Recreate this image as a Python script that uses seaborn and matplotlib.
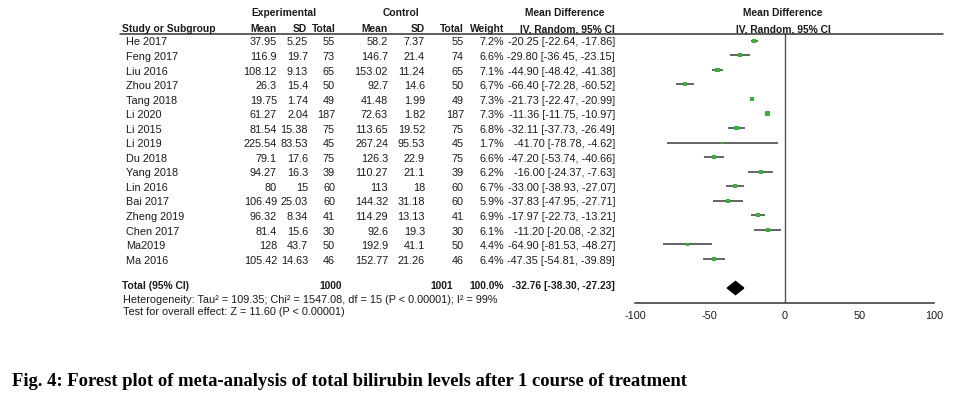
#!/usr/bin/env python3

import matplotlib

matplotlib.use("Agg")
import matplotlib.pyplot as plt
import matplotlib.transforms as mtransforms
import numpy as np
import pandas
import seaborn as sns

# Study rows
studies = [
    "He 2017", "Feng 2017", "Liu 2016", "Zhou 2017", "Tang 2018", "Li 2020",
    "Li 2015", "Li 2019", "Du 2018", "Yang 2018", "Lin 2016", "Bai 2017",
    "Zheng 2019", "Chen 2017", "Ma2019", "Ma 2016",
]
exp_mean = ["37.95", "116.9", "108.12", "26.3", "19.75", "61.27", "81.54", "225.54",
            "79.1", "94.27", "80", "106.49", "96.32", "81.4", "128", "105.42"]
exp_sd = ["5.25", "19.7", "9.13", "15.4", "1.74", "2.04", "15.38", "83.53",
          "17.6", "16.3", "15", "25.03", "8.34", "15.6", "43.7", "14.63"]
exp_total = [55, 73, 65, 50, 49, 187, 75, 45, 75, 39, 60, 60, 41, 30, 50, 46]
ctl_mean = ["58.2", "146.7", "153.02", "92.7", "41.48", "72.63", "113.65", "267.24",
            "126.3", "110.27", "113", "144.32", "114.29", "92.6", "192.9", "152.77"]
ctl_sd = ["7.37", "21.4", "11.24", "14.6", "1.99", "1.82", "19.52", "95.53",
          "22.9", "21.1", "18", "31.18", "13.13", "19.3", "41.1", "21.26"]
ctl_total = [55, 74, 65, 50, 49, 187, 75, 45, 75, 39, 60, 60, 41, 30, 50, 46]
weight = [7.2, 6.6, 7.1, 6.7, 7.3, 7.3, 6.8, 1.7, 6.6, 6.2, 6.7, 5.9, 6.9, 6.1, 4.4, 6.4]
md = [-20.25, -29.80, -44.90, -66.40, -21.73, -11.36, -32.11, -41.70,
      -47.20, -16.00, -33.00, -37.83, -17.97, -11.20, -64.90, -47.35]
ci_low = [-22.64, -36.45, -48.42, -72.28, -22.47, -11.75, -37.73, -78.78,
          -53.74, -24.37, -38.93, -47.95, -22.73, -20.08, -81.53, -54.81]
ci_high = [-17.86, -23.15, -41.38, -60.52, -20.99, -10.97, -26.49, -4.62,
           -40.66, -7.63, -27.07, -27.71, -13.21, -2.32, -48.27, -39.89]

# Pooled result
total_exp = 1000
total_ctl = 1001
pooled = [-32.76, -38.30, -27.23]
heterogeneity = "Heterogeneity: Tau\u00b2 = 109.35; Chi\u00b2 = 1547.08, df = 15 (P < 0.00001); I\u00b2 = 99%"
overall = "Test for overall effect: Z = 11.60 (P < 0.00001)"
caption = "Fig. 4: Forest plot of meta-analysis of total bilirubin levels after 1 course of treatment"
xticks = [-100, -50, 0, 50, 100]

W, H = 958, 397
FS = 7.8
FS_BOLD = 7.4
GREEN = "#35b535"
TEXT = "#1a1a1a"


def fx(px):
    return px / W


def fy(py):
    return 1 - py / H


def main():
    sns.set_style("white")
    plt.rcParams["font.family"] = ["Liberation Sans", "DejaVu Sans"]

    df = pandas.DataFrame(
        {"study": studies, "md": md, "lo": ci_low, "hi": ci_high, "weight": weight}
    )
    df["row"] = np.arange(len(df))
    total_row = len(df) + 1

    fig = plt.figure(figsize=(W / 100, H / 100), dpi=100)
    ax = fig.add_axes([fx(635), fy(303), fx(934) - fx(635), (303 - 33) / H])

    # Confidence intervals and point estimates
    ax.hlines(df["row"], df["lo"], df["hi"], color="#3a3a3a", lw=1.1, zorder=2)
    sizes = (1.15 * np.sqrt(df["weight"])) ** 2
    sns.scatterplot(
        data=df, x="md", y="row", marker="s", s=sizes, color=GREEN,
        edgecolor="none", linewidth=0, legend=False, ax=ax, zorder=3,
    )

    # Pooled diamond
    est, lo, hi = pooled
    ax.fill([lo, est, hi, est], [total_row, total_row - 0.45, total_row, total_row + 0.45],
            color="black", zorder=3)

    ax.axvline(0, color="#555555", lw=1, zorder=1)
    ax.set_xlim(-100, 100)
    ax.set_ylim(18.03, -0.53)
    ax.set_xticks(xticks)
    ax.set_xticklabels([str(t) for t in xticks], fontsize=FS, color=TEXT)
    ax.set_yticks([])
    ax.set_xlabel("")
    ax.set_ylabel("")
    for side in ["top", "right", "left"]:
        ax.spines[side].set_visible(False)
    ax.spines["bottom"].set_color("#333333")
    ax.spines["bottom"].set_linewidth(1.1)
    ax.tick_params(axis="x", direction="inout", length=7, width=1, color="#333333", pad=2)
    ax.patch.set_alpha(0)

    # Table text: x in figure pixels, y in row units
    trans = mtransforms.blended_transform_factory(fig.transFigure, ax.transData)

    def cell(px, row, s, ha="right", bold=False):
        fig.text(fx(px), row, s, transform=trans, ha=ha, va="center",
                 fontsize=FS_BOLD if bold else FS, color=TEXT,
                 fontweight="bold" if bold else "normal")

    for i, name in enumerate(studies):
        r = i + 0.12
        cell(126, r, name, ha="left")
        cell(277, r, exp_mean[i])
        cell(308, r, exp_sd[i])
        cell(335, r, str(exp_total[i]))
        cell(388, r, ctl_mean[i])
        cell(425, r, ctl_sd[i])
        cell(464, r, str(ctl_total[i]))
        cell(504, r, f"{weight[i]:.1f}%")
        cell(615, r, f"{md[i]:.2f} [{ci_low[i]:.2f}, {ci_high[i]:.2f}]")

    r = total_row - 0.15
    cell(122, r, "Total (95% CI)", ha="left", bold=True)
    cell(342, r, str(total_exp), bold=True)
    cell(453, r, str(total_ctl), bold=True)
    cell(504, r, "100.0%", bold=True)
    cell(615, r, f"{est:.2f} [{lo:.2f}, {hi:.2f}]", bold=True)

    # Headers
    def head(px, py, s, ha="right"):
        fig.text(fx(px), fy(py), s, ha=ha, va="center", fontsize=FS_BOLD,
                 color=TEXT, fontweight="bold")

    head(284, 13, "Experimental", ha="center")
    head(401, 13, "Control", ha="center")
    head(565, 13, "Mean Difference", ha="center")
    head(783, 13, "Mean Difference", ha="center")
    head(122, 29, "Study or Subgroup", ha="left")
    head(277, 29, "Mean")
    head(307, 29, "SD")
    head(336, 29, "Total")
    head(388, 29, "Mean")
    head(425, 29, "SD")
    head(464, 29, "Total")
    head(504, 29, "Weight")
    head(615, 29, "IV, Random, 95% CI")
    head(783, 29, "IV, Random, 95% CI", ha="center")

    fig.add_artist(plt.Line2D([fx(120), fx(943)], [fy(33.5), fy(33.5)],
                              color="#333333", lw=1.1))

    fig.text(fx(123), fy(300), heterogeneity, ha="left", va="center", fontsize=FS, color=TEXT)
    fig.text(fx(123), fy(312), overall, ha="left", va="center", fontsize=FS, color=TEXT)

    fig.text(fx(12), fy(382), caption, ha="left", va="center", fontsize=13.4,
             family=["Liberation Serif", "DejaVu Serif"], fontweight="bold", color="black")

    fig.savefig("out.png", dpi=100, facecolor="white")
    plt.close(fig)


if __name__ == "__main__":
    main()
